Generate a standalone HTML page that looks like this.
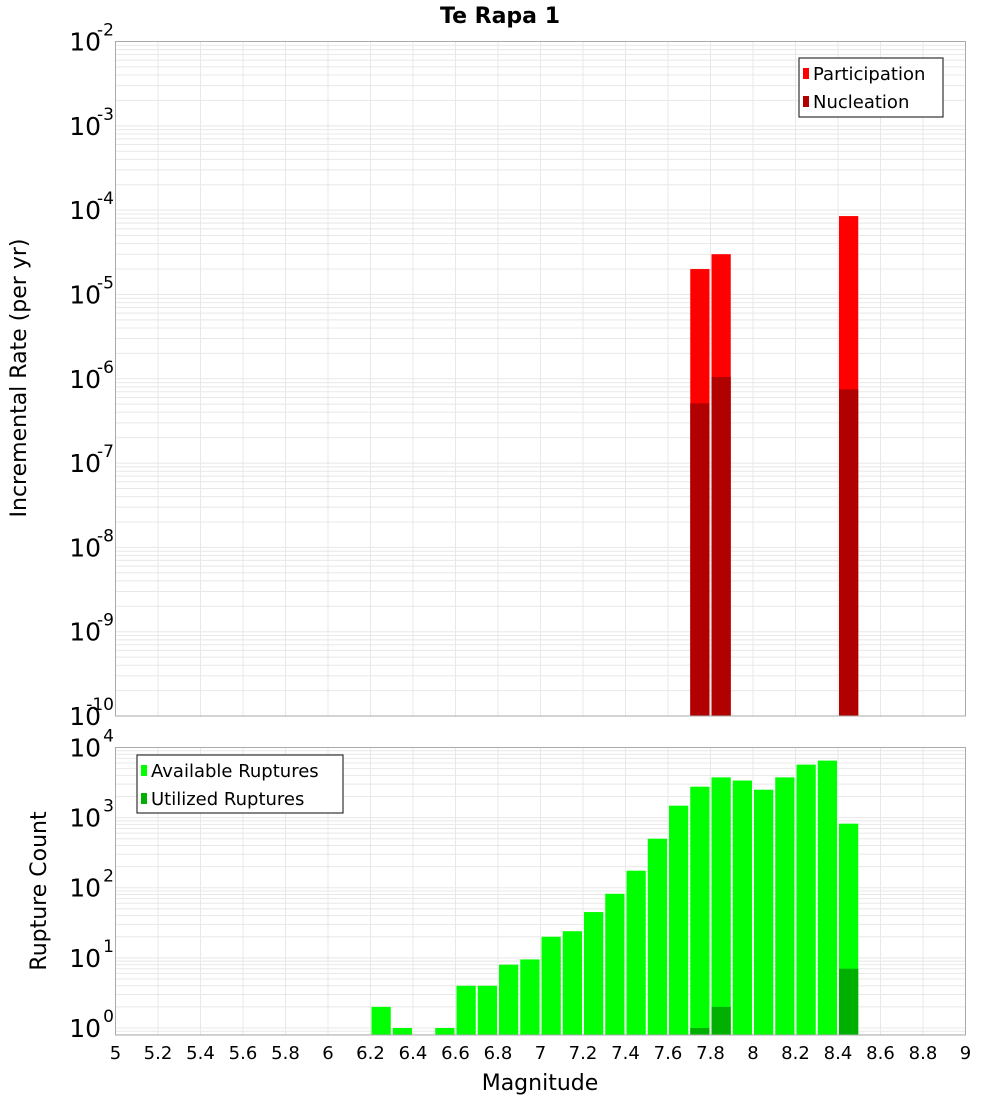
<!DOCTYPE html>
<html><head><meta charset="utf-8"><style>
body{margin:0;background:#fff;}
svg{display:block;font-family:"DejaVu Sans","Liberation Sans",sans-serif;}
</style></head><body>
<svg id="chart" width="1000" height="1100" viewBox="0 0 1000 1100" xmlns="http://www.w3.org/2000/svg">
<rect width="1000" height="1100" fill="#fff"/>
<text x="500" y="23" text-anchor="middle" font-size="22" font-weight="bold">Te Rapa 1</text>
<g id="top"></g><g id="bot"></g>
<text transform="translate(26,378) rotate(-90)" text-anchor="middle" font-size="22">Incremental Rate (per yr)</text>
<text transform="translate(46,891) rotate(-90)" text-anchor="middle" font-size="22">Rupture Count</text>
<text x="540" y="1090" text-anchor="middle" font-size="22">Magnitude</text>
</svg>
<script>
// Top chart data
const rateBins = [7.75, 7.85, 8.45];
const participation = [2.0e-5, 3.0e-5, 8.5e-5];
const nucleation = [5.1e-7, 1.05e-6, 7.5e-7];
// Bottom chart data
const countBins = [6.25,6.35,6.55,6.65,6.75,6.85,6.95,7.05,7.15,7.25,7.35,7.45,7.55,7.65,7.75,7.85,7.95,8.05,8.15,8.25,8.35,8.45];
const available = [2,1,1,4,4,8,9.5,20,24,45,82,175,500,1480,2760,3750,3380,2500,3750,5700,6500,820];
const utilizedBins = [7.75, 7.85, 8.45];
const utilized = [1, 2, 7];
const xTicks = [5,5.2,5.4,5.6,5.8,6,6.2,6.4,6.6,6.8,7,7.2,7.4,7.6,7.8,8,8.2,8.4,8.6,8.8,9];
const topExps = [-10,-9,-8,-7,-6,-5,-4,-3,-2];
const botExps = [0,1,2,3,4];

const NS = "http://www.w3.org/2000/svg";
const X0 = 115.5, X1 = 965.5;
const x = m => X0 + (m - 5) / 4 * (X1 - X0);
function mk(tag, attrs, parent) {
  const e = document.createElementNS(NS, tag);
  for (const k in attrs) e.setAttribute(k, attrs[k]);
  parent.appendChild(e);
  return e;
}
function panel(g, y0, y1, lmin, lmax, exps, name) {
  const y = v => y1 - (Math.log10(v) - lmin) / (lmax - lmin) * (y1 - y0);
  // grid
  for (let d = Math.floor(lmin); d < lmax; d++) {
    for (let k = 1; k < 10; k++) {
      const v = k * Math.pow(10, d);
      const lv = Math.log10(v);
      if (lv < lmin || lv > lmax) continue;
      const gl = mk('line', {x1: X0, x2: X1, y1: y(v), y2: y(v), stroke: '#e8e8e8', 'stroke-width': 1}, g);
      
      
    }
  }
  xTicks.forEach(t => {
    const gl = mk('line', {x1: x(t), x2: x(t), y1: y0, y2: y1, stroke: '#e8e8e8', 'stroke-width': 1}, g);
    
    
  });
  // y labels
  exps.forEach(e => {
    const ty = y(Math.pow(10, e));
    const t = mk('text', {x: 101, y: ty + 9, 'text-anchor': 'end', 'font-size': 25}, g);
    t.textContent = '10';
    
    
    const s = mk('text', {x: 114, y: ty - 6, 'text-anchor': 'end', 'font-size': 17}, g);
    s.textContent = String(e);
    
    
  });
  return y;
}
function bar(g, m, v, y, ybot, color, name) {
  const top = y(v);
  const r = mk('rect', {x: x(m - 0.05) + 1, y: top, width: x(m + 0.05) - x(m - 0.05) - 2, height: ybot - top, fill: color}, g);
  
  
}
function frame(g, y0, y1, name) {
  const f = mk('rect', {x: X0, y: y0, width: X1 - X0, height: y1 - y0, fill: 'none', stroke: '#aaa', 'stroke-width': 1}, g);
  
  
}
function legend(g, bx, by, w, h, items, name) {
  const lg = mk('g', {}, g);
  
  
  mk('rect', {x: bx, y: by, width: w, height: h, fill: '#fff', stroke: '#333', 'stroke-width': 1.2}, lg);
  items.forEach((it, i) => {
    const cy = by + 15 + i * 28;
    const sw = mk('rect', {x: bx + 4, y: cy - 5, width: 6, height: 11, fill: it[1]}, lg);
    
    
    const t = mk('text', {x: bx + 14, y: cy + 7, 'font-size': 18}, lg);
    t.textContent = it[0];
    
    
  });
}
// Top panel
const gt = document.getElementById('top');
const TY0 = 41.5, TY1 = 716;
const yt = panel(gt, TY0, TY1, -10, -2, topExps, 'top');
rateBins.forEach((m, i) => bar(gt, m, participation[i], yt, TY1, '#ff0000', 'participation-bar'));
rateBins.forEach((m, i) => bar(gt, m, nucleation[i], yt, TY1, '#b00000', 'nucleation-bar'));
frame(gt, TY0, TY1, 'top');
legend(gt, 799, 58, 144, 59, [['Participation', '#ff0000'], ['Nucleation', '#b00000']], 'top-legend');
// Bottom panel
const gb = document.getElementById('bot');
const BY0 = 747.5, BY1 = 1035;
const yb = panel(gb, BY0, BY1, -0.1, 4.0, botExps, 'bottom');
countBins.forEach((m, i) => bar(gb, m, available[i], yb, BY1, '#00ff00', 'available-bar'));
utilizedBins.forEach((m, i) => bar(gb, m, utilized[i], yb, BY1, '#00b000', 'utilized-bar'));
frame(gb, BY0, BY1, 'bottom');
legend(gb, 137, 755, 206, 58, [['Available Ruptures', '#00ff00'], ['Utilized Ruptures', '#00b000']], 'bottom-legend');
xTicks.forEach(t => {
  const l = mk('text', {x: x(t), y: 1059, 'text-anchor': 'middle', 'font-size': 18}, gb);
  l.textContent = String(t);
  
  
});
</script>
</body></html>
